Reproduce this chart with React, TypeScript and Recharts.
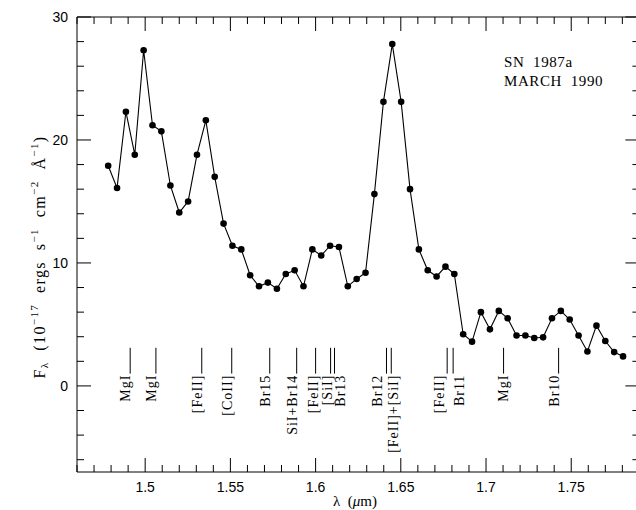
import { Line, LineChart, ReferenceLine, XAxis, YAxis } from 'recharts'

// wavelength (micron) and flux (1e-17 erg/s/cm2/A)
const WAVELENGTH = [
  1.4783, 1.4835, 1.4887, 1.4939, 1.4991, 1.5043, 1.5095, 1.5148, 1.5200, 1.5252,
  1.5304, 1.5356, 1.5408, 1.5460, 1.5512, 1.5564, 1.5616, 1.5668, 1.5720, 1.5773,
  1.5825, 1.5877, 1.5929, 1.5981, 1.6033, 1.6085, 1.6137, 1.6189, 1.6241, 1.6293,
  1.6345, 1.6398, 1.6450, 1.6502, 1.6554, 1.6606, 1.6658, 1.6710, 1.6762, 1.6814,
  1.6866, 1.6918, 1.6970, 1.7023, 1.7075, 1.7127, 1.7179, 1.7231, 1.7283, 1.7335,
  1.7387, 1.7439, 1.7491, 1.7543, 1.7595, 1.7648, 1.7700, 1.7752, 1.7804,
]
const FLUX = [
  17.9, 16.1, 22.3, 18.8, 27.3, 21.2, 20.7, 16.3, 14.1, 15.0,
  18.8, 21.6, 17.0, 13.2, 11.4, 11.1, 9.0, 8.1, 8.4, 7.9,
  9.1, 9.4, 8.1, 11.1, 10.6, 11.4, 11.3, 8.1, 8.7, 9.2,
  15.6, 23.1, 27.8, 23.1, 16.0, 11.1, 9.4, 8.9, 9.7, 9.1,
  4.2, 3.6, 6.0, 4.6, 6.1, 5.5, 4.1, 4.1, 3.9, 3.95,
  5.5, 6.1, 5.4, 4.1, 2.8, 4.9, 3.65, 2.75, 2.4,
]

const X_TICKS = [
  1.46, 1.47, 1.48, 1.49, 1.5, 1.51, 1.52, 1.53, 1.54, 1.55, 1.56, 1.57,
  1.58, 1.59, 1.6, 1.61, 1.62, 1.63, 1.64, 1.65, 1.66, 1.67, 1.68, 1.69,
  1.7, 1.71, 1.72, 1.73, 1.74, 1.75, 1.76, 1.77, 1.78, 1.79,
]
const X_LABELS = [1.5, 1.55, 1.6, 1.65, 1.7, 1.75]
const Y_TICKS = [-6, -4, -2, 0, 2, 4, 6, 8, 10, 12, 14, 16, 18, 20, 22, 24, 26, 28, 30]
const Y_LABELS = [0, 10, 20, 30]

// line identifications
const LINE_NAMES = [
  'MgI', 'MgI', '[FeII]', '[CoII]', 'Br15', 'SiI+Br14', '[FeII]', '[SiI]',
  'Br13', 'Br12', '[FeII]+[SiI]', '[FeII]', 'Br11', 'MgI', 'Br10',
]
const LINE_WAVELENGTHS = [
  1.4912, 1.5063, 1.5332, 1.5508, 1.5731, 1.5889, 1.6000, 1.6088,
  1.6111, 1.6416, 1.6444, 1.6772, 1.6807, 1.7103, 1.7426,
]
const NOTE = ['SN 1987a', 'MARCH 1990']

const data = WAVELENGTH.map((lam, i) => ({ lam, flux: FLUX[i] }))

// pixel shift of each tag's text off its marker line
const TAG_SHIFT = [0, 0, 0, 0, 0, 0, 2, 1, 11, -4, 7, -3, 11, 4, 0]
const MARK_TOP = 3.1
const MARK_BOTTOM = 1.0

const SERIF = '"Liberation Serif", "Times New Roman", serif'
const SANS = '"Liberation Sans", Arial, sans-serif'

const near = (list: number[], v: number) => list.some(m => Math.abs(m - v) < 1e-6)

function XTick({ x, y, payload, side }: any) {
  const major = near(X_LABELS, payload.value)
  const len = major ? 14 : 7
  const dir = side === 'bottom' ? -1 : 1
  return (
    <g>
      <line x1={x} x2={x} y1={y} y2={y + dir * len} stroke="#000" strokeWidth={1} />
      {major && side === 'bottom' && (
        <text x={x} y={y + 20} textAnchor="middle" fontFamily={SANS} fontSize={14} fill="#000">
          {payload.value}
        </text>
      )}
    </g>
  )
}

function YTick({ x, y, payload, side }: any) {
  const major = near(Y_LABELS, payload.value)
  const len = major ? 14 : 7
  const dir = side === 'left' ? 1 : -1
  return (
    <g>
      <line x1={x} x2={x + dir * len} y1={y} y2={y} stroke="#000" strokeWidth={1} />
      {major && side === 'left' && (
        <text x={x - 9} y={y + 5} textAnchor="end" fontFamily={SANS} fontSize={14} fill="#000">
          {payload.value}
        </text>
      )}
    </g>
  )
}

function LineTag({ viewBox, name, shift }: any) {
  const x = viewBox.x + shift
  const y = viewBox.y + viewBox.height + 1
  return (
    <text
      x={x}
      y={y}
      transform={`rotate(-90 ${x} ${y})`}
      textAnchor="end"
      fontFamily={SERIF}
      fontSize={14}
      letterSpacing={1}
      fill="#000"
    >
      {name}
    </text>
  )
}

const axisCommon = {
  type: 'number' as const,
  interval: 0 as const,
  tickSize: 0,
  tickMargin: 0,
  tickLine: false,
  axisLine: { stroke: '#000' },
  allowDataOverflow: true,
}

export default function App() {
  return (
    <div style={{ position: 'fixed', left: 0, top: 0, width: 636, height: 510, overflow: 'hidden', background: '#fff' }}>
      <LineChart width={660} height={510} data={data} margin={{ top: 16, right: 19.6, bottom: 37, left: 76 }}>
        <XAxis
          {...axisCommon}
          xAxisId="b"
          dataKey="lam"
          domain={[1.46, 1.79]}
          ticks={X_TICKS}
          height={1}
          tick={(p: any) => <XTick {...p} side="bottom" />}
        />
        <XAxis
          {...axisCommon}
          xAxisId="t"
          orientation="top"
          dataKey="lam"
          domain={[1.46, 1.79]}
          ticks={X_TICKS}
          height={1}
          tick={(p: any) => <XTick {...p} side="top" />}
        />
        <YAxis
          {...axisCommon}
          yAxisId="l"
          domain={[-7, 30]}
          ticks={Y_TICKS}
          width={1}
          tick={(p: any) => <YTick {...p} side="left" />}
        />
        <YAxis
          {...axisCommon}
          yAxisId="r"
          orientation="right"
          domain={[-7, 30]}
          ticks={Y_TICKS}
          width={1}
          tick={(p: any) => <YTick {...p} side="right" />}
        />
        {LINE_NAMES.map((name, i) => (
          <ReferenceLine
            key={`tag-${i}`}
            xAxisId="b"
            yAxisId="l"
            segment={[
              { x: LINE_WAVELENGTHS[i], y: MARK_TOP },
              { x: LINE_WAVELENGTHS[i], y: MARK_BOTTOM },
            ]}
            stroke="#000"
            strokeWidth={1}
            ifOverflow="visible"
            label={(p: any) => <LineTag viewBox={p.viewBox} name={name} shift={TAG_SHIFT[i]} />}
          />
        ))}
        <Line
          xAxisId="b"
          yAxisId="l"
          dataKey="flux"
          type="linear"
          stroke="#000"
          strokeWidth={1.1}
          dot={{ r: 3.3, fill: '#000', stroke: '#000', strokeWidth: 0 }}
          isAnimationActive={false}
        />
      </LineChart>
      <svg width={636} height={510} style={{ position: 'absolute', left: 0, top: 0, pointerEvents: 'none' }}>
        <text x={504} y={67} fontFamily={SERIF} fontSize={15} letterSpacing={0.6} fill="#000" style={{ whiteSpace: 'pre' }}>
          {NOTE[0].replace(' ', '  ')}
        </text>
        <text x={504} y={86} fontFamily={SERIF} fontSize={15} letterSpacing={0.6} fill="#000" style={{ whiteSpace: 'pre' }}>
          {NOTE[1].replace(' ', '  ')}
        </text>
        <text
          x={45}
          y={257}
          transform="rotate(-90 45 257)"
          textAnchor="middle"
          fontFamily={SERIF}
          fontSize={16}
          letterSpacing={1.4}
          fill="#000"
          style={{ whiteSpace: 'pre' }}
        >
          <tspan>F</tspan>
          <tspan fontSize={11} dy={3}>λ</tspan>
          <tspan dy={-3}>{'  (10'}</tspan>
          <tspan fontSize={11} dy={-7}>−17</tspan>
          <tspan dy={7}>{'  ergs  s'}</tspan>
          <tspan fontSize={11} dy={-7}>−1</tspan>
          <tspan dy={7}>{'  cm'}</tspan>
          <tspan fontSize={11} dy={-7}>−2</tspan>
          <tspan dy={7}>{'  Å'}</tspan>
          <tspan fontSize={11} dy={-7}>−1</tspan>
          <tspan dy={7}>)</tspan>
        </text>
        <text x={355} y={506} textAnchor="middle" fontFamily={SERIF} fontSize={15} fill="#000" style={{ whiteSpace: 'pre' }}>
          <tspan>λ  (</tspan>
          <tspan fontStyle="italic">μ</tspan>
          <tspan>m)</tspan>
        </text>
      </svg>
    </div>
  )
}
